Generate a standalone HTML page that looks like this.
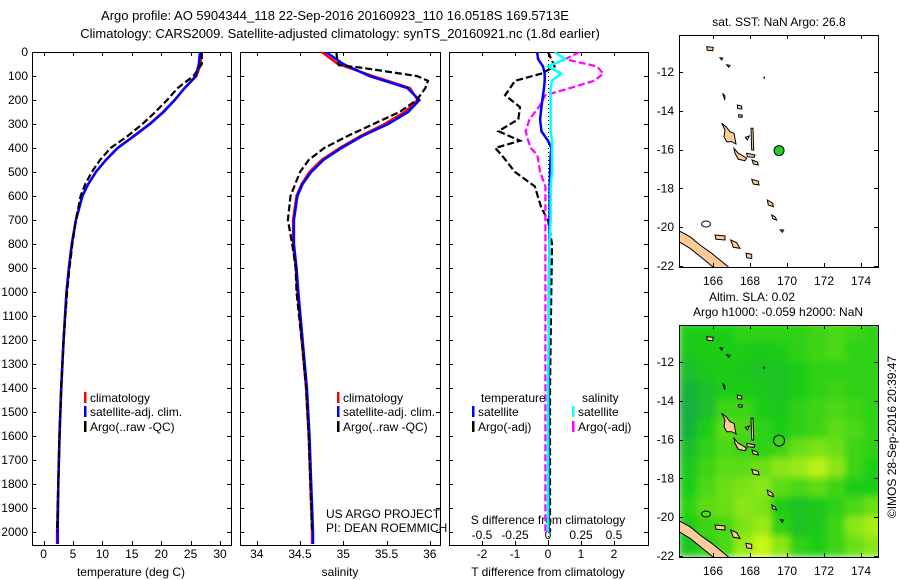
<!DOCTYPE html>
<html><head><meta charset="utf-8"><style>
body{margin:0;background:#fff}
svg{display:block;font-family:"Liberation Sans",sans-serif}
text{font-size:12px;fill:#000}
</style></head><body>
<svg id="c" width="900" height="580" viewBox="0 0 900 580" xmlns="http://www.w3.org/2000/svg">
<g id="g"></g>
</svg>
<script>
// ---- data ----
const depths = [0,50,100,150,200,250,300,350,400,450,500,550,600,700,800,900,1000,1200,1400,1600,1800,2000,2050];
const tempClim = [26.8,26.7,26.0,24.0,22.3,20.3,18.0,15.3,12.6,10.6,8.9,7.6,6.6,5.5,4.8,4.3,3.9,3.4,3.0,2.7,2.5,2.3,2.3];
const tempSat  = [26.6,26.4,25.9,24.0,22.3,20.4,18.1,15.4,12.6,10.6,8.9,7.6,6.6,5.5,4.8,4.3,3.9,3.4,3.0,2.7,2.5,2.4,2.4];
const argoDepths = [0,50,100,150,200,250,300,350,400,450,500,550,600,700,800,900,1000,1200,1400,1600,1800,2000];
const tempArgo = [26.9,26.9,25.5,22.8,21.0,19.0,16.8,14.3,11.4,9.6,8.2,7.1,6.3,5.5,4.9,4.4,4.0,3.4,3.0,2.7,2.5,2.3];
const salClim = [34.75,34.94,35.34,35.77,35.86,35.71,35.48,35.2,34.96,34.75,34.61,34.52,34.46,34.42,34.42,34.45,34.47,34.52,34.57,34.6,34.62,34.64,34.64];
const salSat  = [34.8,35.0,35.3,35.74,35.88,35.75,35.52,35.22,34.98,34.77,34.63,34.53,34.47,34.43,34.43,34.46,34.48,34.53,34.58,34.61,34.63,34.65,34.65];
const salArgoDepths = [0,30,55,65,100,120,150,200,250,300,350,400,450,500,600,700,800,900,1000,1200,1400,1600,1800,2000];
const salArgo = [34.92,34.93,34.95,35.2,35.85,35.98,35.95,35.85,35.65,35.35,35.05,34.78,34.6,34.5,34.39,34.36,34.41,34.45,34.46,34.52,34.57,34.6,34.62,34.64];
const dDepths = [0,30,60,90,120,150,180,230,280,330,370,400,430,500,560,650,700,800,1000,1400,2000];
const tDiffSat  = [-0.33,-0.3,-0.15,-0.1,-0.1,-0.12,-0.15,-0.2,-0.24,-0.2,0.0,0.1,0.08,0.06,0.05,0.05,0.05,0.04,0.03,0.02,0.02];
const tDiffArgo = [0.0,0.1,0.2,-0.2,-1.0,-1.15,-1.3,-0.85,-0.9,-1.5,-0.85,-1.6,-1.4,-1.0,-0.4,-0.2,0.0,0.12,0.1,0.06,0.06];
const sDiffSat  = [0.05,0.13,0.0,0.1,0.03,0.02,0.02,0.02,0.02,0.02,0.03,0.03,0.03,0.03,0.02,0.02,0.02,0.01,0.01,0.0,0.0];
const sDiffArgo = [0.24,0.13,0.37,0.42,0.35,0.17,-0.02,-0.07,-0.14,-0.17,-0.15,-0.13,-0.08,-0.06,-0.02,-0.02,-0.02,-0.02,-0.02,-0.02,-0.02];
const slaRows = [
[0.45,0.45,0.45,0.5,0.5,0.5,0.5,0.55,0.6,0.55,0.5],
[0.4,0.45,0.45,0.45,0.4,0.45,0.5,0.55,0.6,0.5,0.5],
[0.3,0.4,0.45,0.4,0.35,0.35,0.45,0.5,0.5,0.5,0.5],
[0.2,0.3,0.45,0.45,0.4,0.35,0.45,0.5,0.55,0.5,0.5],
[0.15,0.3,0.55,0.55,0.45,0.4,0.5,0.55,0.6,0.55,0.5],
[0.2,0.45,0.65,0.6,0.5,0.45,0.5,0.55,0.65,0.6,0.5],
[0.3,0.5,0.6,0.55,0.5,0.55,0.7,0.75,0.7,0.55,0.5],
[0.4,0.55,0.65,0.65,0.7,0.8,0.85,0.95,0.8,0.55,0.45],
[0.45,0.6,0.7,0.75,0.8,0.65,0.6,0.65,0.55,0.45,0.45],
[0.5,0.65,0.7,0.8,0.75,0.45,0.35,0.4,0.5,0.6,0.7],
[0.45,0.55,0.6,0.75,0.85,0.5,0.35,0.4,0.55,0.8,0.9],
[0.4,0.5,0.6,0.85,1.0,0.8,0.5,0.45,0.55,0.7,0.8]];
const argoLon = 169.57, argoLat = -16.05;

// ---- scales ----
const yD = d => 52 + d*0.24;
const xT = t => 43.6 + t*5.88;
const xS = s => 300 + (s-34.5)*86.5;
const xTd = v => 548 + v*33;
const xSd = v => 548 + v*132;
const mx = lon => 713 + (lon-166)*18.5;
const my1 = lat => 72 + (-12-lat)*19.4;
const my2 = lat => 362 + (-12-lat)*19.4;
const zLon = zx => 166 + ((zx/3+640)-713)/18.5;
const zLat = zy => -12 - ((zy/3)-72)/19.4;

const NS="http://www.w3.org/2000/svg";
const G=document.getElementById('g');
function el(tag,attrs,parent){const e=document.createElementNS(NS,tag);for(const k in attrs)e.setAttribute(k,attrs[k]);(parent||G).appendChild(e);return e;}
function txt(x,y,s,anchor,size,parent){const t=el('text',{x:x,y:y,'text-anchor':anchor||'start'},parent);if(size)t.style.fontSize=size+'px';t.textContent=s;return t;}
function line(xs,ys,color,w,dash,name,clip){
  const pts=xs.map((x,i)=>x.toFixed(1)+','+ys[i].toFixed(1)).join(' ');
  const p=el('polyline',{points:pts,fill:'none',stroke:color,'stroke-width':w});
  if(dash)p.setAttribute('stroke-dasharray',dash);
  if(clip)p.setAttribute('clip-path',clip);
  
  
  return p;
}

const defs=el('defs',{});
[['c1',32,52,199,493],['c2',240,52,200,493],['c3',449,52,199,493],['m1',679,35,199,232],['m2',679,325,199,232]].forEach(c=>{
  const cp=el('clipPath',{id:c[0]},defs);el('rect',{x:c[1],y:c[2],width:c[3],height:c[4]},cp);});
const blur=el('filter',{id:'bl',x:'-5%',y:'-5%',width:'110%',height:'110%'},defs);
el('feGaussianBlur',{stdDeviation:'3.5'},blur);

let t=txt(335,20,'Argo profile: AO 5904344_118 22-Sep-2016 20160923_110 16.0518S 169.5713E','middle',13);

t=txt(340,38,'Climatology: CARS2009. Satellite-adjusted climatology: synTS_20160921.nc (1.8d earlier)','middle',13);


const panels=[[32,231,'temperature-panel'],[240,440,'salinity-panel'],[449,648,'difference-panel']];
panels.forEach(p=>{
  const r=el('rect',{x:p[0]+.5,y:52.5,width:p[1]-p[0],height:493,fill:'none',stroke:'#000','stroke-width':1});
  
  for(let d=0;d<=2000;d+=100){const y=Math.round(yD(d))+.5;
    el('line',{x1:p[0],x2:p[0]+4,y1:y,y2:y,stroke:'#000'});
    el('line',{x1:p[1]-4,x2:p[1],y1:y,y2:y,stroke:'#000'});}
});
for(let d=0;d<=2000;d+=100){const l=txt(28,yD(d)+4,String(d),'end');}

function xticks(vals,f,ylab,labs){
  vals.forEach((v,i)=>{const x=Math.round(f(v))+.5;
    el('line',{x1:x,x2:x,y1:545,y2:541,stroke:'#000'});
    el('line',{x1:x,x2:x,y1:52,y2:56,stroke:'#000'});
    const l=txt(f(v),ylab,labs[i],'middle');});
}
xticks([0,5,10,15,20,25,30],xT,558,['0','5','10','15','20','25','30']);
xticks([34,34.5,35,35.5,36],xS,558,['34','34.5','35','35.5','36']);
xticks([-2,-1,0,1,2],xTd,558,['-2','-1','0','1','2']);
[-0.5,-0.25,0,0.25,0.5].forEach((v,i)=>{const l=txt(xSd(v),539,['-0.5','-0.25','0','0.25','0.5'][i],'middle');});

[[131,'temperature (deg C)','temperature-axis-title'],[340,'salinity','salinity-axis-title'],[548,'T difference from climatology','t-diff-axis-title']].forEach(a=>{
  const l=txt(a[0],576,a[1],'middle');});
t=txt(548,524,'S difference from climatology','middle');

line(tempClim.map(xT),depths.map(yD),'#f00',2.5,null,'temperature-climatology','url(#c1)');
line(tempSat.map(xT),depths.map(yD),'#00f',2.5,null,'temperature-satellite','url(#c1)');
line(tempArgo.map(xT),argoDepths.map(yD),'#000',2.2,'7,3','temperature-argo','url(#c1)');
line(salClim.map(xS),depths.map(yD),'#f00',2.5,null,'salinity-climatology','url(#c2)');
line(salSat.map(xS),depths.map(yD),'#00f',2.5,null,'salinity-satellite','url(#c2)');
line(salArgo.map(xS),salArgoDepths.map(yD),'#000',2.2,'7,3','salinity-argo','url(#c2)');
const z=el('line',{x1:548.5,x2:548.5,y1:52,y2:545,stroke:'#000','stroke-dasharray':'1,3'});

line(tDiffArgo.map(xTd),dDepths.map(yD),'#000',2.2,'7,3','t-diff-argo','url(#c3)');
line(sDiffArgo.map(xSd),dDepths.map(yD),'#f0f',2.2,'7,3','s-diff-argo','url(#c3)');
line(tDiffSat.map(xTd),dDepths.map(yD),'#00f',2.5,null,'t-diff-satellite','url(#c3)');
line(sDiffSat.map(xSd),dDepths.map(yD),'#0ff',2.5,null,'s-diff-satellite','url(#c3)');

function leg(x,y,color,label,name){
  const g=el('g',{});
  el('rect',{x:x,y:y-10,width:2.5,height:11,fill:color},g);txt(x+6,y,label,'start',null,g);}
leg(84,402,'#f00','climatology','legend-climatology');
leg(84,416,'#00f','satellite-adj. clim.','legend-satellite-adj');
leg(84,431,'#000','Argo(..raw -QC)','legend-argo');
leg(337,402,'#f00','climatology','legend-climatology-sal');
leg(337,416,'#00f','satellite-adj. clim.','legend-satellite-adj-sal');
leg(337,431,'#000','Argo(..raw -QC)','legend-argo-sal');
t=txt(481,402,'temperature');
t=txt(582,402,'salinity');
leg(472,416,'#00f','satellite','legend-t-satellite');
leg(472,431,'#000','Argo(-adj)','legend-t-argo');
leg(572,416,'#0ff','satellite','legend-s-satellite');
leg(572,431,'#f0f','Argo(-adj)','legend-s-argo');
t=txt(326,518,'US ARGO PROJECT');
t=txt(326,532,'PI: DEAN ROEMMICH');

// ---- maps ----
function col(v){let a,b,f;if(v<0.45){a=[20,160,90];b=[30,205,20];f=v/0.45;}else{a=[30,205,20];b=[200,245,20];f=(v-0.45)/0.55;}
  return 'rgb('+a.map((c,i)=>Math.round(c+(b[i]-c)*f)).join(',')+')';}
const hm=el('g',{'clip-path':'url(#m2)'});
const hmb=el('g',{filter:'url(#bl)'},hm);
slaRows.forEach((row,r)=>row.forEach((v,c)=>{
  const x0=mx(164.2+c),x1=mx(165.2+c),y0=my2(-10-r),y1=my2(-11-r);
  const cell=el('rect',{x:x0-1,y:y0-1,width:x1-x0+2,height:y1-y0+2,fill:col(v)},hmb);
  
  
}));

const islandPx=[
 [[100,683],[150,710],[180,735],[215,760],[268,803],[225,806],[200,785],[150,745],[100,715]],
 [[245,370],[258,380],[270,395],[282,400],[288,432],[275,425],[260,425],[252,410],[255,390]],
 [[282,445],[295,460],[305,465],[320,475],[315,482],[295,478],[285,460]],
 [[333,385],[339,385],[341,450],[335,450]],
 [[320,460],[345,465],[342,472],[322,470]],
 [[316,412],[328,408],[322,420]],
 [[336,480],[352,486],[355,495],[340,492]],
 [[335,538],[355,544],[357,555],[340,552]],
 [[382,600],[398,610],[400,620],[385,615]],
 [[395,645],[405,650],[410,660],[398,656]],
 [[421,689],[431,690],[427,697]],
 [[225,705],[255,708],[255,720],[228,718]],
 [[272,720],[290,728],[300,745],[280,742]],
 [[318,760],[335,763],[335,776],[320,773]],
 [[292,315],[305,318],[305,327],[293,326]],
 [[296,344],[307,345],[306,352],[296,351]],
 [[248,280],[255,288],[254,300]],
 [[200,140],[220,142],[218,152],[202,151]],
 [[240,173],[248,174],[245,180]],
 [[260,194],[270,196],[266,202]]
];
const islands=islandPx.map(isl=>isl.map(p=>[zLon(p[0]),zLat(p[1])]));
function drawMap(my,clip,name,bx,by,bh){
  const g=el('g',{'clip-path':clip});
  islands.forEach(isl=>{el('polygon',{points:isl.map(p=>mx(p[0]).toFixed(1)+','+my(p[1]).toFixed(1)).join(' '),fill:'#fc9',stroke:'#000','stroke-width':1},g);});
  el('ellipse',{cx:mx(zLon(198)),cy:my(zLat(672)),rx:4.5,ry:3,fill:'none',stroke:'#000'},g);
  el('rect',{x:mx(zLon(372))-0.5,y:my(zLat(233))-1,width:1.5,height:2,fill:'#000'},g);
  const fr=el('rect',{x:bx+.5,y:by+.5,width:199,height:bh,fill:'none',stroke:'#000'});
  
  [-12,-14,-16,-18,-20,-22].forEach(l=>{const y=Math.round(my(l))+.5;
    el('line',{x1:bx,x2:bx+4,y1:y,y2:y,stroke:'#000'});el('line',{x1:bx+195,x2:bx+199,y1:y,y2:y,stroke:'#000'});
    const lb=txt(bx-5,my(l)+4,String(l),'end');});
  [166,168,170,172,174].forEach(l=>{const x=Math.round(mx(l))+.5;
    el('line',{x1:x,x2:x,y1:by,y2:by+4,stroke:'#000'});el('line',{x1:x,x2:x,y1:by+bh,y2:by+bh-4,stroke:'#000'});
    const lb=txt(mx(l),by+bh+18,String(l),'middle');});
}
drawMap(my1,'url(#m1)','sst-map',679,35,232);
drawMap(my2,'url(#m2)','sla-map',679,325,232);
let d=el('circle',{cx:mx(argoLon),cy:my1(argoLat),r:5,fill:'#2c2',stroke:'#000'});

d=el('circle',{cx:mx(argoLon),cy:my2(argoLat),r:5.5,fill:'none',stroke:'#000'});

t=txt(779,26,'sat. SST: NaN Argo: 26.8','middle');
t=txt(752,301,'Altim. SLA: 0.02','middle');
t=txt(778,316,'Argo h1000: -0.059 h2000: NaN','middle');
t=el('text',{x:0,y:0,transform:'translate(896,437) rotate(-90)','text-anchor':'middle'});t.textContent='©IMOS 28-Sep-2016 20:39:47';

</script>
</body></html>
